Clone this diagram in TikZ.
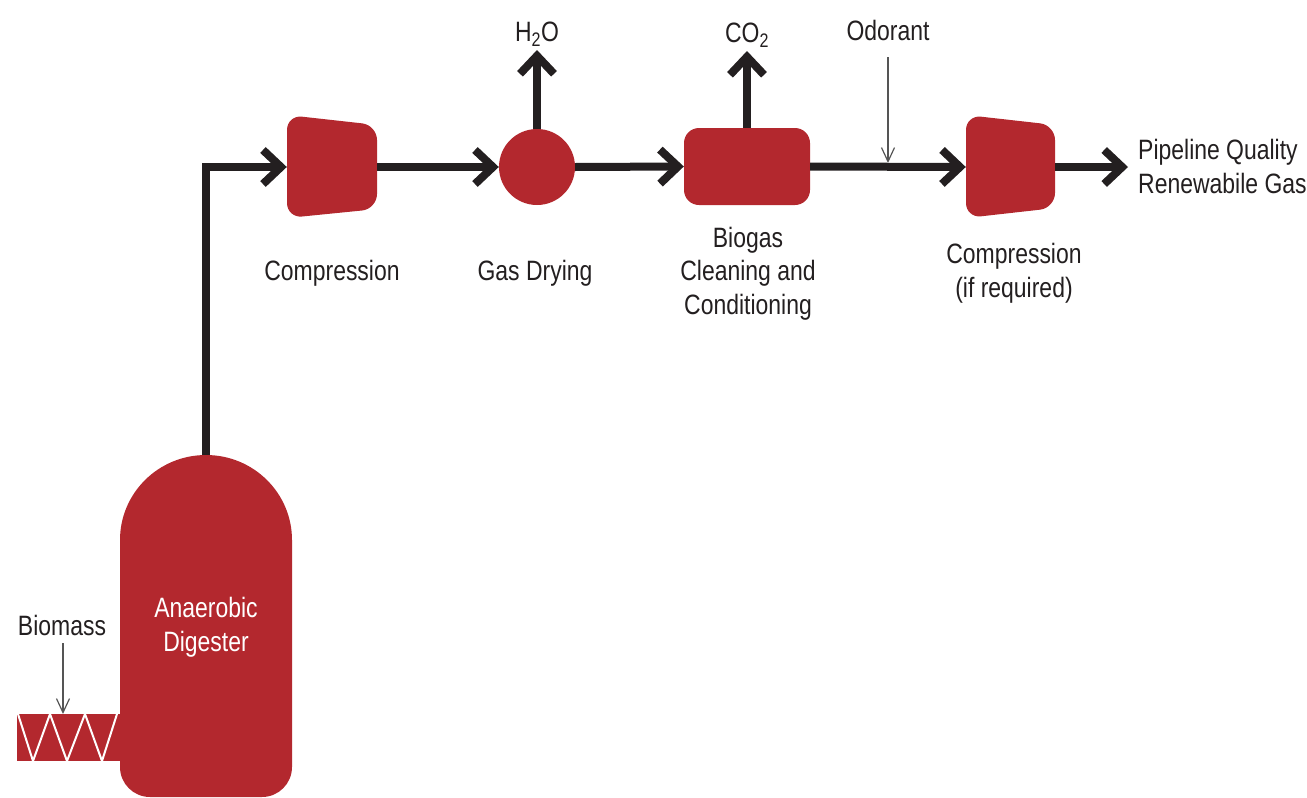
\documentclass[tikz,border=0pt]{standalone}
\usepackage{fontspec}
\setmainfont{Liberation Sans}[FakeStretch=0.82]
\usetikzlibrary{arrows.meta}
\definecolor{rgred}{HTML}{B3282E}
\definecolor{pipeblack}{HTML}{231F20}
\definecolor{thingray}{HTML}{555555}
\tikzset{
  pipe/.style={draw=pipeblack, line width=8pt, -{Straight Barb[length=18pt,width=34pt,sharp]}},
  thinarrow/.style={draw=thingray, line width=1.2pt, -{Straight Barb[length=14pt,width=13pt]}},
  lbl/.style={font=\fontsize{28}{33.5}\selectfont, text=pipeblack, inner sep=0pt, align=center},
  whitelbl/.style={lbl, text=white},
  unit/.style={fill=rgred, draw=none},
  anchorbox/.style={inner sep=0pt, draw=none}
}
\begin{document}
\begin{tikzpicture}[x=1pt,y=-1pt]
\useasboundingbox (0,0) rectangle (1307,798);

% conveyor
\fill[rgred] (17,714) rectangle (124,761);
\draw[white, line width=2pt] (18,714)--(33,761)--(50,714)--(67,761)--(85,714)--(102,761)--(117,714);

% digester
\fill[rgred] (120,540) .. controls (120,493) and (158.5,455) .. (206,455)
  .. controls (253.5,455) and (292,493) .. (292,540)
  -- (292,767) .. controls (292,783.6) and (278.6,797) .. (262,797)
  -- (150,797) .. controls (133.4,797) and (120,783.6) .. (120,767) -- cycle;
\coordinate (dtop) at (206,455);

% compressors
\fill[rgred, rounded corners=15pt] (287,115) -- (377,125) -- (377,209) -- (287,218) -- cycle;
\node[anchorbox, minimum width=90pt, minimum height=103pt] (c1) at (332,167) {};
\fill[rgred, rounded corners=15pt] (966,115) -- (1055,125) -- (1055,208) -- (966,218) -- cycle;
\node[anchorbox, minimum width=89pt, minimum height=103pt] (c2) at (1010.5,167) {};

% dryer and cleaning
\node[unit, circle, minimum size=76pt, inner sep=0pt] (dry) at (537,167) {};
\node[unit, rectangle, rounded corners=15pt, minimum width=126pt, minimum height=77pt, inner sep=0pt] (clean) at (747,166.5) {};

\coordinate (h2o) at (537,50);
\coordinate (co2) at (747,51);
\coordinate (out) at (1128,167);
\coordinate (odo) at (888,57);
\coordinate (odoend) at (888,163);
\coordinate (bio) at (63,643);
\coordinate (bioend) at (63,714);

% pipes
\draw[pipe] (dtop) |- (c1.west);
\draw[pipe] (c1.east) -- (dry.west);
\draw[pipe] (dry.east) -- (clean.west);
\draw[pipe] (clean.east) -- (c2.west);
\draw[pipe] (c2.east) -- (out);
\draw[pipe] (dry.north) -- (h2o);
\draw[pipe] (clean.north) -- (co2);
\draw[thinarrow] (odo) -- (odoend);
\draw[thinarrow] (bio) -- (bioend);

% labels
\node[lbl, anchor=base] (th2o) at (537,41) {H\textsubscript{2}O};
\node[lbl, anchor=base] (tco2) at (747,42) {CO\textsubscript{2}};
\node[lbl, anchor=base] (todo) at (888,40) {Odorant};
\node[lbl, anchor=base] (tc1) at (332,280) {Compression};
\node[lbl, anchor=base] (tdry) at (535,280) {Gas Drying};
\node[lbl, anchor=base] (tclean) at (748,314) {Biogas\\Cleaning and\\Conditioning};
\node[lbl, anchor=base] (tc2) at (1014,297) {Compression\\(if required)};
\node[lbl, anchor=base west, align=left] (tout) at (1138,193) {Pipeline Quality\\Renewabile Gas};
\node[whitelbl, anchor=base] (tdig) at (206,651) {Anaerobic\\Digester};
\node[lbl, anchor=base] (tbio) at (62,635) {Biomass};
\end{tikzpicture}
\end{document}
